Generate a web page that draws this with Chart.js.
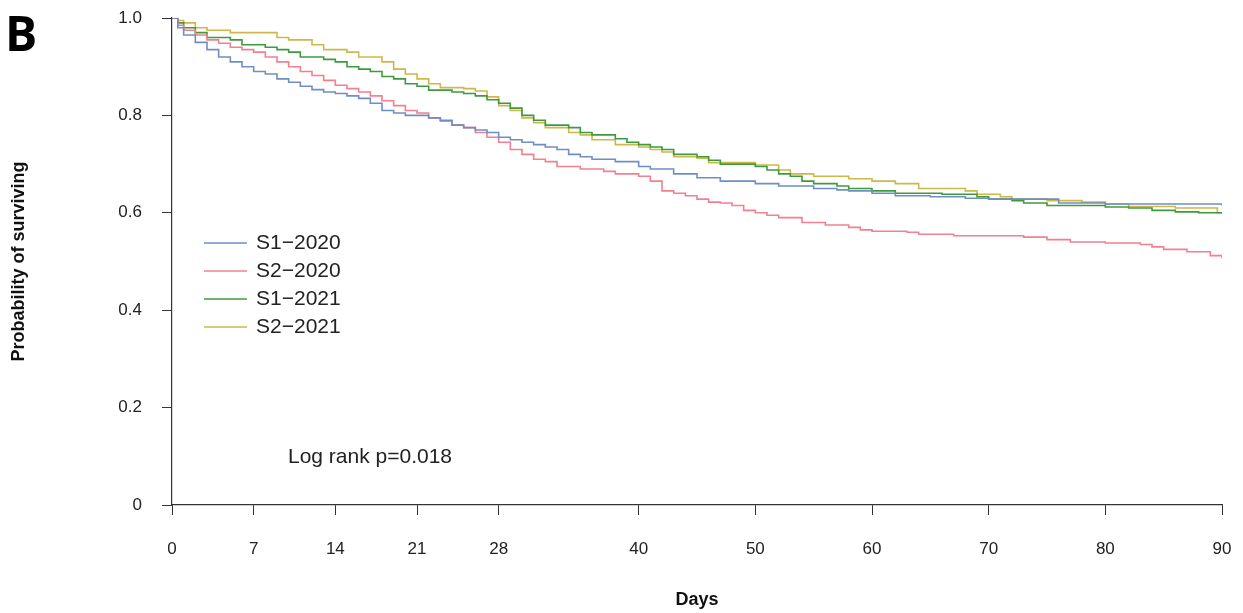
<!DOCTYPE html>
<html>
<head>
<meta charset="utf-8">
<script src="https://cdn.jsdelivr.net/npm/chart.js@4/dist/chart.umd.min.js"></script>
<style>
  html, body { margin: 0; padding: 0; background: #fff; }
  canvas { display: block; }
</style>
</head>
<body>
<canvas id="km" width="1243" height="613"></canvas>
<script>
const X_TICKS = [0, 7, 14, 21, 28, 40, 50, 60, 70, 80, 90];
const Y_TICKS = [0, 0.2, 0.4, 0.6, 0.8, 1.0];
const LABELS = ["S1\u22122020", "S2\u22122020", "S1\u22122021", "S2\u22122021"];
const COLORS = ["#6f8fc4", "#f2808f", "#3f9a3f", "#cdb84a"];

const s1_2020_days = [0, 0.5, 1, 2, 3, 4, 5, 6, 7, 8, 9, 10, 11, 12, 13, 14, 15, 16, 17, 18, 19, 20, 22, 23, 24, 25, 26, 27, 28, 29, 30, 31, 32, 33, 34, 35, 36, 38, 40, 41, 43, 45, 47, 50, 52, 55, 57, 58, 60, 62, 65, 68, 70, 76, 80, 90];
const s1_2020_vals = [1, 0.98, 0.965, 0.95, 0.935, 0.92, 0.91, 0.9, 0.89, 0.885, 0.875, 0.868, 0.86, 0.853, 0.848, 0.845, 0.84, 0.835, 0.825, 0.81, 0.805, 0.8, 0.795, 0.79, 0.78, 0.775, 0.77, 0.765, 0.755, 0.75, 0.745, 0.74, 0.735, 0.73, 0.72, 0.715, 0.71, 0.705, 0.695, 0.69, 0.68, 0.672, 0.665, 0.66, 0.655, 0.65, 0.647, 0.645, 0.64, 0.635, 0.633, 0.63, 0.628, 0.62, 0.618, 0.615];

const s2_2020_days = [0, 0.5, 1, 2, 3, 4, 5, 6, 7, 8, 9, 10, 11, 12, 13, 14, 15, 16, 17, 18, 19, 20, 21, 22, 23, 24, 25, 26, 27, 28, 29, 30, 31, 32, 33, 35, 37, 38, 40, 41, 42, 43, 44, 45, 46, 47, 48, 49, 50, 51, 52, 54, 56, 58, 59, 60, 63, 64, 67, 73, 75, 77, 80, 83, 84, 85, 87, 89, 90];
const s2_2020_vals = [1, 0.985, 0.975, 0.965, 0.955, 0.948, 0.94, 0.935, 0.93, 0.92, 0.91, 0.9, 0.89, 0.882, 0.872, 0.862, 0.855, 0.848, 0.84, 0.83, 0.82, 0.81, 0.805, 0.795, 0.788, 0.78, 0.775, 0.765, 0.755, 0.745, 0.73, 0.72, 0.71, 0.705, 0.695, 0.69, 0.685, 0.68, 0.675, 0.665, 0.645, 0.64, 0.635, 0.628, 0.622, 0.62, 0.615, 0.605, 0.6, 0.595, 0.59, 0.58, 0.575, 0.57, 0.565, 0.562, 0.56, 0.556, 0.553, 0.55, 0.545, 0.54, 0.538, 0.535, 0.53, 0.525, 0.52, 0.512, 0.506];

const s1_2021_days = [0, 0.5, 1, 2, 3, 5, 6, 8, 9, 10, 11, 13, 14, 15, 16, 17, 18, 19, 20, 21, 22, 24, 25, 26, 27, 28, 29, 30, 31, 32, 34, 35, 36, 38, 39, 40, 41, 42, 43, 45, 46, 47, 50, 51, 52, 53, 54, 55, 57, 58, 60, 62, 66, 69, 70, 72, 73, 75, 80, 82, 84, 86, 88, 90];
const s1_2021_vals = [1, 0.99, 0.98, 0.97, 0.96, 0.955, 0.945, 0.94, 0.935, 0.93, 0.92, 0.915, 0.91, 0.9, 0.895, 0.89, 0.88, 0.875, 0.865, 0.86, 0.852, 0.848, 0.845, 0.84, 0.832, 0.825, 0.815, 0.8, 0.79, 0.78, 0.775, 0.765, 0.76, 0.752, 0.745, 0.74, 0.735, 0.73, 0.72, 0.715, 0.708, 0.7, 0.695, 0.688, 0.68, 0.675, 0.665, 0.66, 0.655, 0.65, 0.645, 0.64, 0.638, 0.633, 0.628, 0.625, 0.62, 0.615, 0.612, 0.61, 0.605, 0.602, 0.6, 0.598];

const s2_2021_days = [0, 0.5, 1, 2, 3, 5, 9, 10, 12, 13, 15, 16, 18, 19, 20, 21, 22, 23, 25, 26, 27, 28, 29, 30, 31, 32, 34, 35, 36, 38, 40, 41, 42, 43, 45, 46, 50, 52, 53, 55, 58, 60, 62, 64, 68, 69, 71, 72, 75, 78, 80, 82, 86, 89.6, 90];
const s2_2021_vals = [1, 0.995, 0.99, 0.98, 0.975, 0.97, 0.96, 0.955, 0.945, 0.935, 0.93, 0.92, 0.91, 0.895, 0.885, 0.875, 0.865, 0.857, 0.855, 0.85, 0.838, 0.82, 0.81, 0.795, 0.785, 0.775, 0.765, 0.76, 0.75, 0.74, 0.735, 0.73, 0.725, 0.715, 0.712, 0.703, 0.698, 0.688, 0.68, 0.675, 0.67, 0.665, 0.66, 0.65, 0.645, 0.638, 0.633, 0.628, 0.625, 0.622, 0.618, 0.613, 0.61, 0.6, 0.6];

const SERIES = [
  [s1_2020_days, s1_2020_vals],
  [s2_2020_days, s2_2020_vals],
  [s1_2021_days, s1_2021_vals],
  [s2_2021_days, s2_2021_vals],
];

const FONT = "'Liberation Sans', Arial, sans-serif";

const extras = {
  id: "extras",
  afterDraw(chart) {
    const ctx = chart.ctx;
    ctx.save();
    ctx.fillStyle = "#000";
    ctx.font = "bold 48px 'Open Sans', sans-serif";
    ctx.textBaseline = "alphabetic";
    ctx.fillText("B", 5, 51);
    // legend
    ctx.font = "21px " + FONT;
    ctx.textBaseline = "middle";
    chart.data.datasets.forEach((ds, i) => {
      const y = 243 + i * 28;
      ctx.strokeStyle = ds.borderColor;
      ctx.lineWidth = 1.5;
      ctx.beginPath();
      ctx.moveTo(204, y);
      ctx.lineTo(247, y);
      ctx.stroke();
      ctx.fillStyle = "#222";
      ctx.fillText(ds.label, 256, y);
    });
    ctx.fillText("Log rank p=0.018", 288, 457);
    ctx.restore();
  },
};

new Chart(document.getElementById("km"), {
  type: "line",
  data: {
    datasets: SERIES.map(([d, v], i) => ({
      label: LABELS[i],
      data: d.map((x, j) => ({ x, y: v[j] })),
      borderColor: COLORS[i],
      borderWidth: 1.6,
      pointRadius: 0,
      stepped: true,
      fill: false,
    })),
  },
  options: {
    responsive: false,
    animation: false,
    layout: { padding: { left: 0, top: 18, right: 21, bottom: 0 } },
    plugins: { legend: { display: false }, tooltip: { enabled: false } },
    scales: {
      x: {
        type: "linear",
        min: 0,
        max: 90,
        afterBuildTicks: (s) => { s.ticks = X_TICKS.map((value) => ({ value })); },
        afterFit: (s) => { s.height = 108; s.paddingLeft = 0; s.paddingRight = 0; },
        grid: { drawOnChartArea: false, tickLength: 10, color: "#333" },
        border: { color: "#333", width: 1.2 },
        ticks: { color: "#222", font: { size: 17, family: FONT }, padding: 24, maxRotation: 0 },
        title: { display: true, text: "Days", color: "#111", font: { size: 18, weight: "bold", family: FONT }, padding: { top: 0, bottom: 2 } },
      },
      y: {
        min: 0,
        max: 1,
        afterBuildTicks: (s) => { s.ticks = Y_TICKS.map((value) => ({ value })); },
        afterFit: (s) => { s.width = 172; s.paddingTop = 0; s.paddingBottom = 0; },
        grid: { drawOnChartArea: false, tickLength: 10, color: "#333" },
        border: { color: "#333", width: 1.2 },
        ticks: { color: "#222", font: { size: 17, family: FONT }, padding: 20, callback: (v) => (v === 0 ? "0" : v.toFixed(1)) },
        title: { display: true, text: "Probability of surviving", color: "#111", font: { size: 18, weight: "bold", family: FONT }, padding: { top: 8, bottom: 0 } },
      },
    },
  },
  plugins: [extras],
});
</script>
</body>
</html>
